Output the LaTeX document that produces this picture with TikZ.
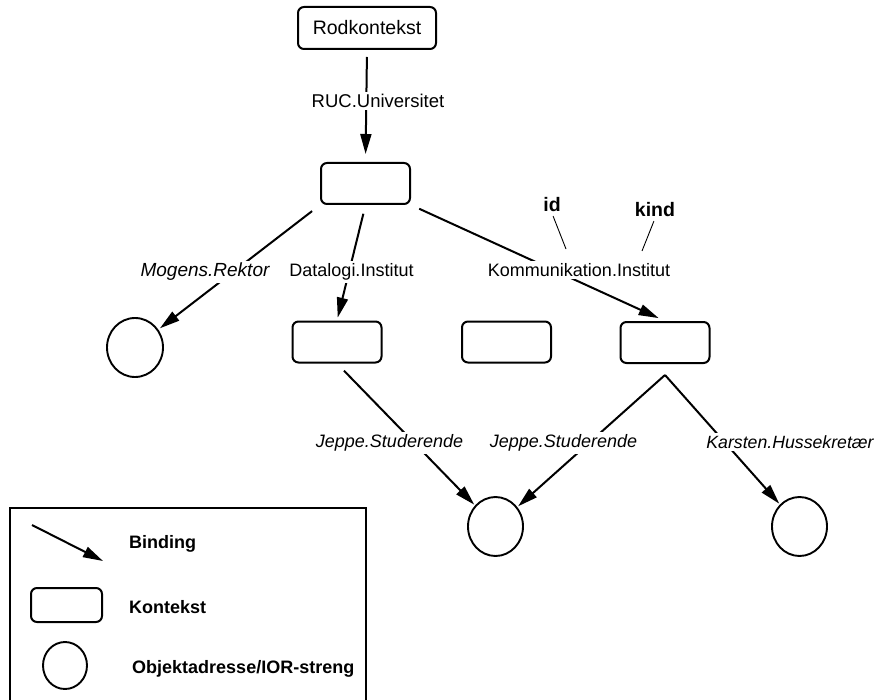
\documentclass[tikz,border=0pt]{standalone}
\usepackage{fontspec}
\setmainfont{Liberation Sans}
\usetikzlibrary{arrows.meta,shapes.geometric}

\newcommand{\fsz}[1]{\fontsize{#1}{#1}\selectfont}

\begin{document}
\begin{tikzpicture}[x=1pt,y=-1pt,
  ctx/.style={draw, line width=2pt, rounded corners=6pt, minimum width=89pt,
    minimum height=41pt, inner sep=0pt},
  obj/.style={draw, ellipse, line width=1.9pt, minimum width=55pt,
    minimum height=59pt, inner sep=0pt},
  bind/.style={line width=2pt, -{Triangle[length=20pt,width=11pt]}},
  thinline/.style={line width=0.9pt},
  lbl/.style={fill=white, inner sep=2.5pt, font=\fsz{18}},
  ilbl/.style={lbl, font=\fsz{18}\itshape},
  blbl/.style={inner sep=1pt, font=\fsz{19.5}\bfseries},
  legtxt/.style={anchor=west, inner sep=0pt, font=\fsz{18}\bfseries}
]
\useasboundingbox (0,0) rectangle (877,700);

% naming graph
\node[ctx, minimum width=138pt, minimum height=42pt, font=\fsz{19.5}]
  (root) at (367,28) {Rodkontekst};
\node[ctx] (ctx1) at (365.5,183.5) {};
\node[ctx] (ctx2) at (337,342) {};
\node[ctx] (ctx3) at (506.5,342) {};
\node[ctx] (ctx4) at (665,342.5) {};
\node[obj, minimum width=56pt] (mog) at (135,347.5) {};
\node[obj] (objA) at (495.5,526.5) {};
\node[obj] (objB) at (799.5,526.5) {};

% common start point of the two bindings below ctx4
\coordinate (ctx4b) at ([yshift=-11pt]ctx4.south);

% bindings
\draw[bind, shorten <=7pt, shorten >=8pt] (root.south) -- (ctx1.north);
\draw[bind, shorten <=10pt, shorten >=2pt] (ctx1.south west) -- (mog);
\draw[bind, shorten <=9pt, shorten >=3pt] (ctx1.south) -- (ctx2.north);
\draw[bind, shorten <=9pt, shorten >=7pt] (ctx1.south east) -- (ctx4.north);
\draw[bind, shorten <=10pt, shorten >=1pt] (ctx2.south) -- (objA);
\draw[bind, shorten >=1pt] (ctx4b) -- (objA);
\draw[bind, shorten >=1pt] (ctx4b) -- (objB);

% binding names
\node[lbl, font=\fsz{18.5}] (lruc) at (378,101) {RUC.Universitet};
\node[ilbl, font=\fsz{19}\itshape] (lmog) at (205,272) {Mogens.Rektor};
\node[lbl] (ldat) at (351.5,272) {Datalogi.Institut};
\node[lbl] (lkom) at (579,270) {Kommunikation.Institut};
\node[ilbl] (ljep1) at (389.5,443) {Jeppe.Studerende};
\node[ilbl] (ljep2) at (563.5,443) {Jeppe.Studerende};
\node[ilbl, font=\fsz{17.7}\itshape] (lkar) at (790,442) {Karsten.Hussekretær};

% name components
\node[blbl] (id) at (552,205) {id};
\node[blbl] (kind) at (655,210) {kind};
\coordinate (idend) at (566,249);
\coordinate (kindend) at (642,251);
\draw[thinline, shorten <=3pt] (id.south) -- (idend);
\draw[thinline, shorten <=3pt] (kind.south) -- (kindend);

% legend
\draw[line width=2.4pt] (10,712) |- (366,508) -- (366,712);
\coordinate (legA) at (32,525);
\coordinate (legB) at (103,561);
\draw[bind] (legA) -- (legB);
\node[ctx, minimum width=71pt, minimum height=34pt] (legctx) at (66.5,605) {};
\node[obj, minimum width=44pt, minimum height=47pt] (legobj) at (65,665.5) {};
\node[legtxt] (legt1) at (129,544) {Binding};
\node[legtxt] (legt2) at (129,607) {Kontekst};
\node[legtxt] (legt3) at (132,669) {Objektadresse/IOR-streng};
\end{tikzpicture}
\end{document}
